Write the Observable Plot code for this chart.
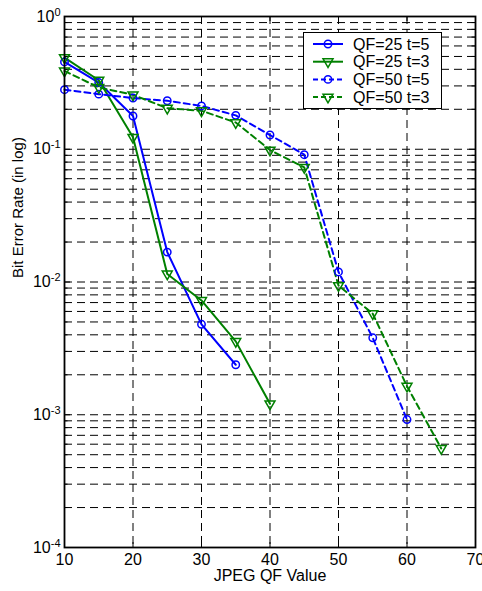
<!DOCTYPE html>
<html><head><meta charset="utf-8">
<script src="https://cdn.jsdelivr.net/npm/d3@7"></script>
<script src="https://cdn.jsdelivr.net/npm/@observablehq/plot@0.6"></script>
<style>
body{margin:0;background:#fff;}
#wrap{position:relative;width:482px;height:591px;font-family:"Liberation Sans",Arial,sans-serif;}
#legend{position:absolute;left:303px;top:32px;}
</style>
</head><body><div id="wrap"></div>
<script>
// ---- data ----
const qf = [10, 15, 20, 25, 30, 35, 40, 45, 50, 55, 60, 65];
const ber_qf25_t5 = [0.455, 0.318, 0.178, 0.0168, 0.0048, 0.00238];
const ber_qf25_t3 = [0.49, 0.331, 0.123, 0.0115, 0.00726, 0.00357, 0.00121];
const ber_qf50_t5 = [0.281, 0.26, 0.243, 0.232, 0.212, 0.18, 0.128, 0.091, 0.0119, 0.0038, 0.00092];
const ber_qf50_t3 = [0.389, 0.292, 0.257, 0.204, 0.195, 0.159, 0.0986, 0.073, 0.0094, 0.00577, 0.00164, 0.000557];
const seriesNames = ["QF=25 t=5", "QF=25 t=3", "QF=50 t=5", "QF=50 t=3"];
const xTicks = [10, 20, 30, 40, 50, 60, 70];
const yDecades = [1e-4, 1e-3, 1e-2, 1e-1, 1];
const xLabel = "JPEG QF Value";
const yLabel = "Bit Error Rate (in log)";

// ---- styles ----
const BLUE = "#0000ff", GREEN = "#008000";
const styles = [
  {color: BLUE, dash: null, symbol: "circle", rotate: 0},
  {color: GREEN, dash: null, symbol: "triangle", rotate: 180},
  {color: BLUE, dash: "6,4", symbol: "circle", rotate: 0},
  {color: GREEN, dash: "6,4", symbol: "triangle", rotate: 180}
];
const seriesValues = [ber_qf25_t5, ber_qf25_t3, ber_qf50_t5, ber_qf50_t3];
const series = seriesValues.map((vals, k) => vals.map((v, i) => ({x: qf[i], y: v, s: seriesNames[k]})));

const yMinor = [];
yDecades.slice(0, -1).forEach(d => { for (let m = 2; m <= 9; m++) yMinor.push(d * m); });
const yGrid = yDecades.concat(yMinor);

const W = 482, H = 591, ML = 64, MR = 7, MT = 16, MB = 44;
const FW = W - ML - MR, FH = H - MT - MB;
const FONT = "Liberation Sans, Arial, sans-serif";

const marks = [
  Plot.ruleX(xTicks, {x: d => d, stroke: "#000", strokeWidth: 1, strokeDasharray: "8,5"}),
  Plot.ruleY(yGrid, {y: d => d, stroke: "#000", strokeWidth: 1, strokeDasharray: "8,5"}),
  // inward ticks
  Plot.tickX(xTicks, {x: d => d, stroke: "#000", strokeWidth: 1, insetTop: FH - 5}),
  Plot.tickX(xTicks, {x: d => d, stroke: "#000", strokeWidth: 1, insetBottom: FH - 5}),
  Plot.tickY(yDecades, {y: d => d, stroke: "#000", strokeWidth: 1, insetRight: FW - 6}),
  Plot.tickY(yDecades, {y: d => d, stroke: "#000", strokeWidth: 1, insetLeft: FW - 6}),
  Plot.tickY(yMinor, {y: d => d, stroke: "#000", strokeWidth: 1, insetRight: FW - 3.5}),
  Plot.tickY(yMinor, {y: d => d, stroke: "#000", strokeWidth: 1, insetLeft: FW - 3.5})
];
series.forEach((data, k) => {
  const st = styles[k];
  marks.push(Plot.line(data, {x: "x", y: "y", stroke: st.color, strokeWidth: 2, strokeDasharray: st.dash}));
});
series.forEach((data, k) => {
  const st = styles[k];
  marks.push(Plot.dot(data, {x: "x", y: "y", stroke: st.color, fill: "none", strokeWidth: 1.5, r: 3.7, symbol: st.symbol, rotate: st.rotate}));
});
marks.push(
  Plot.frame({stroke: "#000", strokeWidth: 1.8}),
  Plot.axisX(xTicks, {tickSize: 0, tickPadding: 6, label: null, fontSize: 16}),
  Plot.axisY(yDecades, {tickSize: 0, tickPadding: 4, label: null, fontSize: 16, tickFormat: d => String(Math.round(Math.log10(d)))}),
  Plot.text([xLabel], {frameAnchor: "bottom", dy: 33, text: d => d, fontSize: 16, fill: "#000"}),
  Plot.text([yLabel], {frameAnchor: "left", dx: -46, dy: -4, rotate: -90, text: d => d, fontSize: 15, fill: "#000"})
);

const chart = Plot.plot({
  width: W, height: H,
  marginLeft: ML, marginRight: MR, marginTop: MT, marginBottom: MB,
  x: {domain: [10, 70], label: null},
  y: {type: "log", domain: [1e-4, 1], label: null},
  style: {fontFamily: FONT, fontSize: "16px", background: "#fff", color: "#000"},
  marks
});

// superscript exponents on y tick labels
d3.select(chart).selectAll('g[aria-label="y-axis tick label"] text').each(function() {
  const t = d3.select(this);
  const e = t.text();
  t.text("");
  t.append("tspan").text("10");
  t.append("tspan").attr("dy", "-0.55em").attr("font-size", "11px").text(e);
});

const wrap = document.getElementById("wrap");
wrap.appendChild(chart);

// legend
const LW = 138, LH = 76, rowH = 17.7;
const lg = d3.select(wrap).append("svg").attr("id", "legend").attr("width", LW + 1).attr("height", LH + 1)
  .style("font-family", FONT).style("font-size", "16px");
lg.append("rect").attr("x", 0.5).attr("y", 0.5).attr("width", LW).attr("height", LH)
  .attr("fill", "#fff").attr("stroke", "#000").attr("stroke-width", 1);
const tri = d3.symbol(d3.symbolTriangle, Math.PI * 3.7 * 3.7)();
seriesNames.forEach((name, k) => {
  const st = styles[k];
  const cy = 12 + k * rowH;
  const g = lg.append("g");
  g.append("line").attr("x1", 10).attr("x2", 40).attr("y1", cy).attr("y2", cy)
    .attr("stroke", st.color).attr("stroke-width", 2).attr("stroke-dasharray", st.dash ? "5,3" : null);
  if (st.symbol === "circle") {
    g.append("circle").attr("cx", 25).attr("cy", cy).attr("r", 3.7).attr("fill", "none").attr("stroke", st.color).attr("stroke-width", 1.5);
  } else {
    g.append("path").attr("d", tri).attr("transform", `translate(25,${cy}) rotate(180)`).attr("fill", "none").attr("stroke", st.color).attr("stroke-width", 1.5);
  }
  g.append("text").attr("x", 50).attr("y", cy).attr("dy", "0.35em").attr("fill", "#000").text(name);
});
</script>
</body></html>
